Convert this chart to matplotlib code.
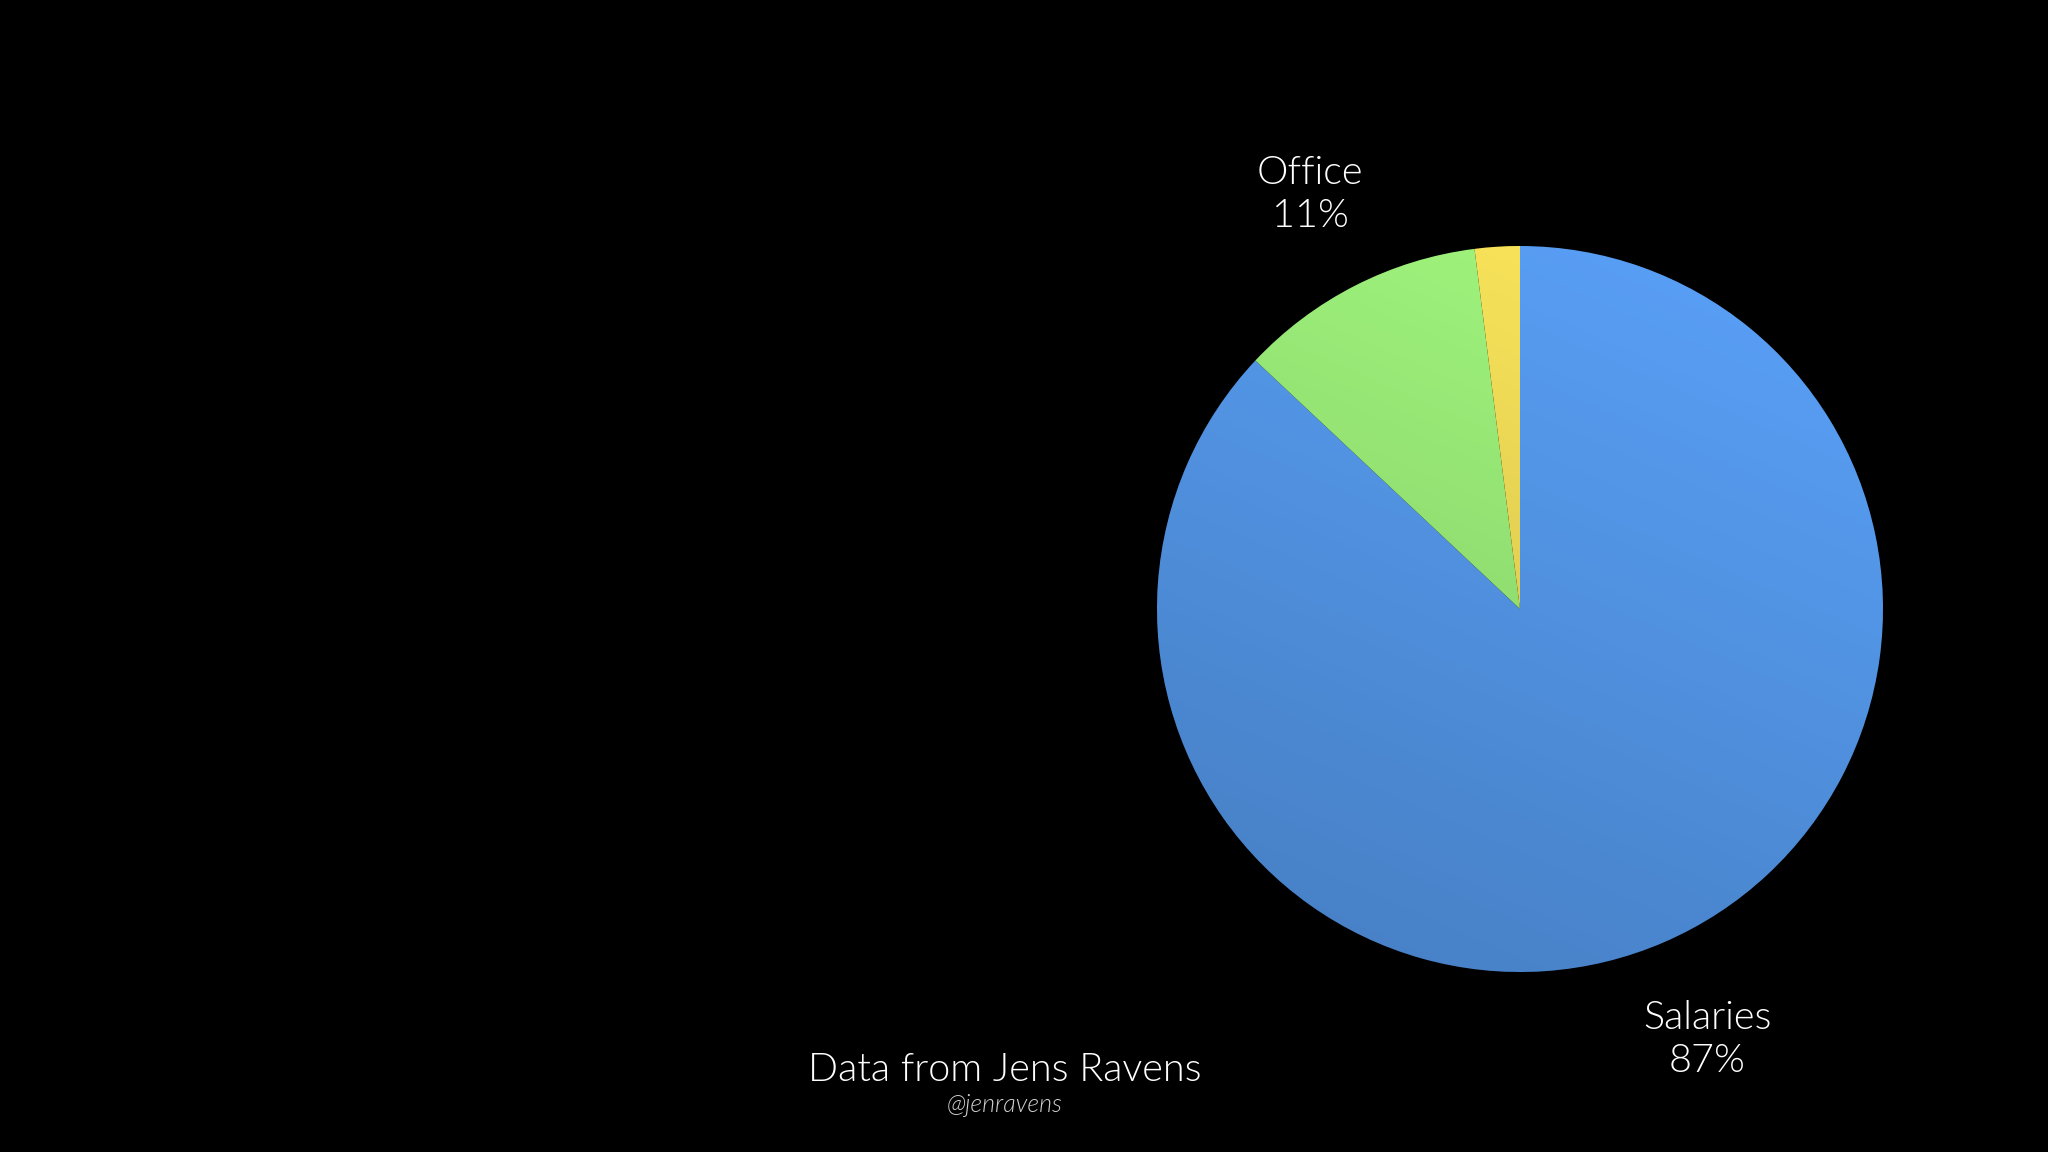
import numpy as np
import matplotlib.pyplot as plt
from matplotlib.patches import Circle

# Cost breakdown
categories = ['Salaries', 'Office', 'Other']
shares = [87, 11, 2]
colors = ['#5aa2fa', '#a4fb80', '#ffea5c']

W, H = 2048, 1152
fig = plt.figure(figsize=(W / 100, H / 100), dpi=100, facecolor='black')
ax = fig.add_axes([0, 0, 1, 1])
ax.set_facecolor('black')

cx, cy, r = 1520, H - 609, 363

wedges, _ = ax.pie(shares, colors=colors, startangle=90, counterclock=False,
                   center=(cx, cy), radius=r, frame=True,
                   wedgeprops=dict(linewidth=0))
ax.set_xlim(0, W)
ax.set_ylim(0, H)
ax.set_aspect('equal')
ax.axis('off')

# soft lighting: brightest at the top right, darker towards the bottom
yy, xx = np.mgrid[0:1:200j, 0:1:200j]
light = np.clip(0.8 * (1 - yy) + 0.35 * xx - 0.15, 0, 1)
overlay = np.zeros((200, 200, 4))
overlay[..., 3] = 0.2 * (1 - light)
im = ax.imshow(overlay, extent=(cx - r, cx + r, cy - r, cy + r),
               origin='upper', zorder=3, interpolation='bilinear')
im.set_clip_path(Circle((cx, cy), r, transform=ax.transData))

font = ['Lato', 'DejaVu Sans']
txt = dict(color='white', fontsize=28.5, family=font, fontweight=300,
           ha='center', va='center', zorder=6)
ax.text(1310, H - 173, categories[1], **txt)
ax.text(1310, H - 216, f'{shares[1]}%', **txt)
ax.text(1707, H - 1018, categories[0], **txt)
ax.text(1707, H - 1061, f'{shares[0]}%', **txt)

ax.text(1005, H - 1070, 'Data from Jens Ravens', **txt)
ax.text(1005, H - 1105, '@jenravens', color='#d0d0d0', fontsize=18,
        family=font, fontweight=300, style='italic', ha='center', va='center',
        zorder=6)

fig.savefig('out.png', dpi=100, facecolor='black')
